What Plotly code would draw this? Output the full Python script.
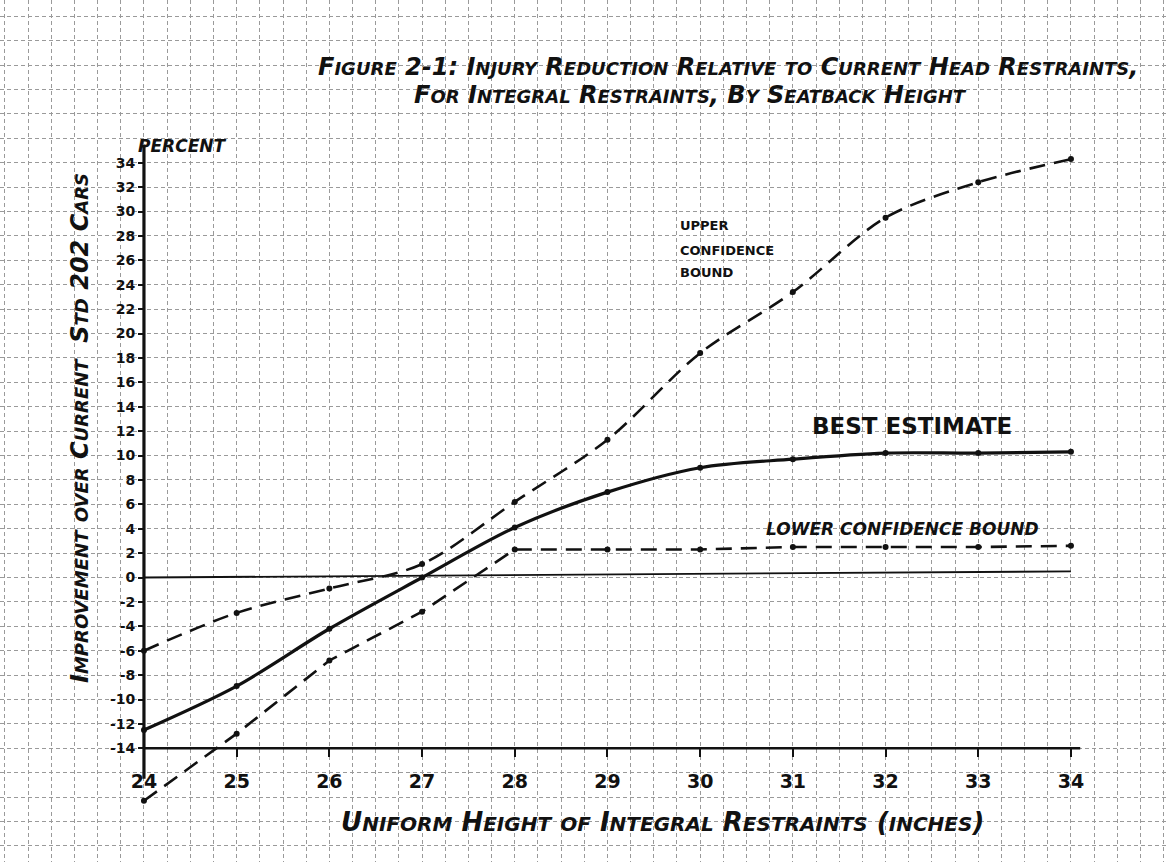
import plotly.graph_objects as go

# ---------------- data ----------------
heights = [24, 25, 26, 27, 28, 29, 30, 31, 32, 33, 34]
upper_bound = [-6.0, -2.9, -0.9, 1.1, 6.2, 11.3, 18.4, 23.4, 29.5, 32.4, 34.3]
best_estimate = [-12.5, -8.9, -4.2, 0.0, 4.1, 7.0, 9.0, 9.7, 10.2, 10.2, 10.3]
lower_bound = [-18.3, -12.8, -6.8, -2.8, 2.3, 2.3, 2.3, 2.5, 2.5, 2.5, 2.6]

y_tick_vals = list(range(-14, 35, 2))
y_tick_text = [str(v) for v in y_tick_vals]
x_tick_vals = list(range(24, 35))
x_tick_text = [str(v) for v in x_tick_vals]

title_1 = "Figure 2-1: Injury Reduction Relative to Current Head Restraints,"
title_2 = "For Integral Restraints, By Seatback Height"
y_title = "Improvement over Current  Std 202 Cars"
x_title = "Uniform Height of Integral Restraints (inches)"

# ---------------- helpers ----------------
W, H = 1167, 862
FONT = "DejaVu Sans"


def small_caps(text, big, small):
    out = []
    for ch in text:
        if ch.islower():
            out.append(f"<span style='font-size:{small}px'>{ch.upper()}</span>")
        else:
            out.append(f"<span style='font-size:{big}px'>{ch}</span>")
    return "".join(out)


def px(xp, yp):
    return xp / W, 1 - yp / H


fig = go.Figure()

line_color = "#111111"
fig.add_trace(go.Scatter(
    x=heights, y=upper_bound, mode="lines+markers", line_shape="spline",
    line=dict(color=line_color, width=2.6, dash="16px,9px", smoothing=0.9),
    marker=dict(size=6, color=line_color), name="Upper confidence bound"))
fig.add_trace(go.Scatter(
    x=heights, y=best_estimate, mode="lines+markers", line_shape="spline",
    line=dict(color=line_color, width=3.2, smoothing=0.9),
    marker=dict(size=6, color=line_color), name="Best estimate"))
fig.add_trace(go.Scatter(
    x=heights, y=lower_bound, mode="lines+markers", line_shape="linear",
    line=dict(color=line_color, width=2.6, dash="16px,9px"),
    marker=dict(size=6, color=line_color), name="Lower confidence bound"))

X_RANGE = [22.447, 35.036]
Y_RANGE = [-23.32, 47.34]

grid = dict(gridcolor="#9a9a9a", gridwidth=1, griddash="4px,3px")

fig.update_layout(
    width=W, height=H,
    margin=dict(l=0, r=0, t=0, b=0),
    paper_bgcolor="white", plot_bgcolor="white",
    showlegend=False,
    font=dict(family=FONT, color="#111111"),
    xaxis=dict(
        range=X_RANGE, anchor="free",
        position=(-14 - Y_RANGE[0]) / (Y_RANGE[1] - Y_RANGE[0]),
        tickmode="array", tickvals=x_tick_vals, ticktext=x_tick_text,
        ticks="outside", ticklen=8, tickwidth=2, tickcolor="#111",
        ticklabelstandoff=8,
        tickfont=dict(size=19, family=FONT, weight="bold", color="#111"),
        showline=False, zeroline=False, showgrid=True, **grid,
        minor=dict(dtick=0.25, tick0=24, showgrid=True, **grid),
    ),
    yaxis=dict(
        range=Y_RANGE, anchor="free", position=144 / W,
        tickmode="array", tickvals=y_tick_vals, ticktext=y_tick_text,
        ticks="outside", ticklen=6, tickwidth=2, tickcolor="#111",
        tickfont=dict(size=14, family=FONT, weight="bold", color="#111"),
        showline=False, zeroline=False, showgrid=True, **grid,
        minor=dict(dtick=2, tick0=0, showgrid=True, **grid),
    ),
)

# axis lines and zero reference line (in data coordinates)
fig.add_shape(type="line", xref="x", yref="y", x0=24, x1=24, y0=-16.5, y1=35.5,
              line=dict(color="#111", width=3.2))
fig.add_shape(type="line", xref="x", yref="y", x0=24, x1=34.1, y0=-14, y1=-14,
              line=dict(color="#111", width=2.6))
fig.add_shape(type="line", xref="x", yref="y", x0=24, x1=34, y0=0, y1=0.5,
              line=dict(color="#111", width=1.8))


# ---------------- text ----------------
def ann(text, xp, yp, size=14, xanchor="center", angle=0, italic=True, bold=True):
    x, y = px(xp, yp)
    fig.add_annotation(
        text=text, x=x, y=y, xref="paper", yref="paper", showarrow=False,
        xanchor=xanchor, yanchor="middle", textangle=angle,
        font=dict(family=FONT, size=size, color="#111",
                  style="italic" if italic else "normal",
                  weight="bold" if bold else "normal"))


ann(small_caps(title_1, 24, 18), 728, 67)
ann(small_caps(title_2, 24, 18), 690, 95)
ann("PERCENT", 182, 146, size=17)
ann(small_caps(y_title, 24, 18), 80, 428, angle=-90)
ann(small_caps(x_title, 26, 20), 662, 822)
ann("UPPER", 678, 226, size=13, xanchor="left", italic=False)
ann("CONFIDENCE", 678, 250, size=13, xanchor="left", italic=False)
ann("BOUND", 678, 272, size=13, xanchor="left", italic=False)
ann("BEST ESTIMATE", 912, 426, size=23, italic=False)
ann("LOWER CONFIDENCE BOUND", 902, 529, size=17, italic=True)

fig.write_html("out.html", config={"displayModeBar": False},
               post_script="document.body.style.margin='0px';")
